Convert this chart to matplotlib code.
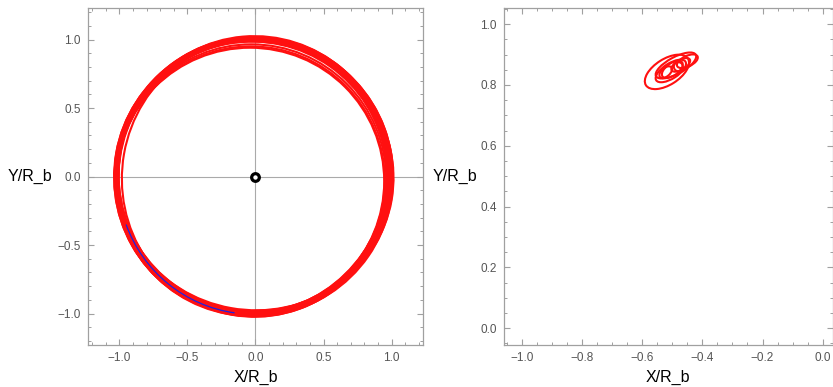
import numpy as np
import matplotlib.pyplot as plt
from matplotlib.patches import Ellipse, Arc
from matplotlib.ticker import MultipleLocator

plt.rcParams['font.family'] = ['Liberation Sans', 'DejaVu Sans']

# left panel: precessing near-circular orbit, one ellipse per loop
orb_cx = [-0.010, -0.020, -0.015, -0.005, -0.020, -0.025, -0.010, 0.000, -0.015, -0.020,
          -0.030, -0.010, 0.005, -0.020, -0.010, -0.025, -0.030, -0.035, -0.040]
orb_cy = [0.000, 0.005, -0.005, 0.010, 0.000, -0.010, 0.005, 0.000, 0.010, -0.005,
          0.000, 0.000, -0.005, 0.010, -0.010, 0.005, -0.020, -0.030, -0.035]
orb_rx = [1.020, 1.010, 1.000, 1.015, 1.005, 0.995, 1.025, 1.010, 0.990, 1.020,
          1.010, 1.000, 1.020, 0.985, 1.000, 1.015, 0.990, 0.985, 0.985]
orb_ry = [1.000, 1.010, 0.990, 1.000, 1.020, 0.995, 0.980, 1.015, 1.000, 0.990,
          1.005, 1.010, 0.985, 1.000, 1.020, 0.990, 0.985, 0.980, 0.975]
orb_ang = [20, 45, 70, 95, 120, 145, 170, 10, 60, 110,
           35, 150, 80, 5, 130, 55, 0, 0, 0]

# blue segment on the lower-left arc
seg_center = (-0.015, -0.01)
seg_r = 0.995
seg_theta = (200, 262)

# central body
body_x = [-0.005]
body_y = [-0.006]

# right panel: small tilted loops
loop_cx = [-0.518, -0.488, -0.500, -0.472, -0.450, -0.522, -0.480, -0.505]
loop_cy = [0.843, 0.864, 0.851, 0.866, 0.878, 0.842, 0.860, 0.846]
loop_w = [0.165, 0.150, 0.080, 0.070, 0.075, 0.050, 0.030, 0.115]
loop_h = [0.085, 0.055, 0.040, 0.032, 0.035, 0.028, 0.030, 0.050]
loop_ang = [32, 28, 35, 30, 25, 40, 0, 32]

frame_col = '#a0a0a0'
tick_col = '#555555'

fig = plt.figure(figsize=(8.33, 3.87), dpi=100)
ax1 = fig.add_axes([0.1056, 0.1085, 0.4022, 0.8708])
ax2 = fig.add_axes([0.605, 0.1085, 0.3945, 0.8708])


def style(ax, major, minor, ylab_x):
    for s in ax.spines.values():
        s.set_color(frame_col)
        s.set_linewidth(0.9)
    ax.xaxis.set_major_locator(MultipleLocator(major))
    ax.yaxis.set_major_locator(MultipleLocator(major))
    ax.xaxis.set_minor_locator(MultipleLocator(minor))
    ax.yaxis.set_minor_locator(MultipleLocator(minor))
    ax.tick_params(which='both', direction='in', top=True, right=True,
                   color=frame_col, labelcolor=tick_col, labelsize=8.5, pad=5)
    ax.tick_params(which='major', length=4.5, width=0.8)
    ax.tick_params(which='minor', length=2.5, width=0.7)
    fmt = plt.FuncFormatter(lambda v, p: f'{v:.1f}'.replace('-', '\u2212'))
    ax.xaxis.set_major_formatter(fmt)
    ax.yaxis.set_major_formatter(fmt)
    ax.set_xlabel('X/R_b', fontsize=11.5, labelpad=4)
    ax.set_ylabel('Y/R_b', fontsize=11.5, rotation=0, ha='right', va='center')
    ax.yaxis.set_label_coords(ylab_x, 0.5)


# left panel
ax1.axhline(0, color='#aaaaaa', lw=0.8, zorder=1)
ax1.axvline(0, color='#aaaaaa', lw=0.8, zorder=1)
for i in range(len(orb_cx)):
    ax1.add_patch(Ellipse((orb_cx[i], orb_cy[i]), 2 * orb_rx[i], 2 * orb_ry[i], angle=orb_ang[i],
                          fill=False, ec='#ff1010', lw=1.5, zorder=2))
ax1.add_patch(Arc(seg_center, 2 * seg_r, 2 * seg_r, theta1=seg_theta[0], theta2=seg_theta[1],
                  color='#2020e0', lw=0.9, zorder=3))
ax1.plot(body_x, body_y, 'o', ms=5.5, mfc='white', mec='black', mew=2.3, zorder=5)
ax1.set_xlim(-1.23, 1.23)
ax1.set_ylim(-1.23, 1.23)
style(ax1, 0.5, 0.1, -0.107)

# right panel
for i in range(len(loop_cx)):
    ax2.add_patch(Ellipse((loop_cx[i], loop_cy[i]), loop_w[i], loop_h[i], angle=loop_ang[i],
                          fill=False, ec='#ff1010', lw=1.5))
ax2.set_xlim(-1.06, 0.033)
ax2.set_ylim(-0.055, 1.053)
style(ax2, 0.2, 0.05, -0.082)

fig.savefig('out.png', dpi=100)
